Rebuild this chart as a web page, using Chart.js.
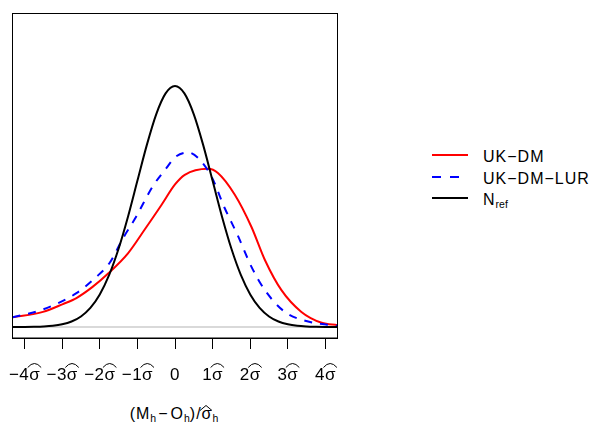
<!DOCTYPE html>
<html>
<head>
<meta charset="utf-8">
<script src="https://cdn.jsdelivr.net/npm/chart.js@4/dist/chart.umd.min.js"></script>
<style>
  html, body { margin: 0; padding: 0; background: #fff; }
  body { width: 598px; height: 424px; position: relative; overflow: hidden;
         font-family: "Liberation Sans", Arial, sans-serif; color: #000; }
  #wrap { position: absolute; left: 0; top: 0; width: 350px; height: 390px; }
  .txt { position: absolute; font-size: 16px; letter-spacing: 1px; white-space: nowrap; line-height: 1; }
  .txt sub { font-size: 10.5px; letter-spacing: 0; vertical-align: -3px; }
  .op { margin: 0 2px; }
  .hat { position: relative; display: inline-block; }
  .hat svg { position: absolute; left: -1.5px; top: -1.5px; width: 12px; height: 6px; overflow: visible; }
  #xtitle { left: 0; width: 348px; top: 406px; text-align: center; }
  .key { position: absolute; left: 432px; width: 36px; height: 4px; }
</style>
</head>
<body>
<div id="wrap"><canvas id="dens"></canvas></div>
<div class="txt" id="xtitle">(M<sub>h</sub><span class="op">&minus;</span>O<sub>h</sub>)/<span class="hat">&sigma;<svg><polyline points="0,5.5 6,0.5 12,5.5" fill="none" stroke="#000" stroke-width="1"/></svg></span><sub>h</sub></div>

<svg class="key" style="top:153px"><line x1="0" y1="2" x2="36" y2="2" stroke="#ff0000" stroke-width="2"/></svg>
<svg class="key" style="top:174.7px"><line x1="0" y1="2" x2="36" y2="2" stroke="#0000ff" stroke-width="2" stroke-dasharray="9 9"/></svg>
<svg class="key" style="top:195.7px"><line x1="0" y1="2" x2="36" y2="2" stroke="#000" stroke-width="2"/></svg>
<div class="txt" style="left:483px; top:149px">UK&minus;DM</div>
<div class="txt" style="left:483px; top:170.5px">UK&minus;DM&minus;LUR</div>
<div class="txt" style="left:483px; top:191.5px">N<sub>ref</sub></div>

<script>
// standardised residuals, in units of sigma-hat
const xTicks = [-4, -3, -2, -1, 0, 1, 2, 3, 4];

const ukdmX = [-4.32, -3.51, -2.98, -2.62, -2.2, -1.77, -1.25, -0.81, -0.36, 0, 0.26, 0.88, 1.14, 1.59, 2.03, 2.39, 2.83, 3.36, 3.9, 4.32];
const ukdmY = [0.016, 0.025, 0.038, 0.048, 0.066, 0.089, 0.122, 0.161, 0.202, 0.236, 0.252, 0.262, 0.255, 0.219, 0.166, 0.111, 0.061, 0.025, 0.007, 0.003];

const lurX = [-4.32, -3.51, -2.62, -2.09, -1.74, -1.38, -1.03, -0.59, -0.23, 0, 0.35, 0.61, 0.97, 1.32, 1.68, 2.03, 2.39, 2.92, 3.54, 4.16, 4.32];
const lurY = [0.016, 0.029, 0.056, 0.083, 0.106, 0.147, 0.183, 0.233, 0.263, 0.281, 0.289, 0.280, 0.249, 0.197, 0.150, 0.100, 0.061, 0.025, 0.009, 0.003, 0.002];

const refX = [-4.32, -4, -3.75, -3.5, -3.25, -3, -2.75, -2.5, -2.25, -2, -1.75, -1.5, -1.25, -1, -0.75, -0.5, -0.25, 0,
              0.25, 0.5, 0.75, 1, 1.25, 1.5, 1.75, 2, 2.25, 2.5, 2.75, 3, 3.25, 3.5, 3.75, 4, 4.32];
const refY = [0.0000, 0.0001, 0.0004, 0.0009, 0.0020, 0.0044, 0.0091, 0.0175, 0.0317, 0.0540, 0.0863, 0.1295, 0.1826, 0.2420, 0.3011, 0.3521, 0.3867, 0.3989,
              0.3867, 0.3521, 0.3011, 0.2420, 0.1826, 0.1295, 0.0863, 0.0540, 0.0317, 0.0175, 0.0091, 0.0044, 0.0020, 0.0009, 0.0004, 0.0001, 0.0000];

const pts = (xs, ys) => xs.map((x, i) => ({ x: x, y: ys[i] }));

// box round the plot region, grey zero line, and the sigma-hat tick labels
const frame = {
  id: 'frame',
  beforeDatasetsDraw(chart) {
    const { ctx, chartArea: a, scales: { y } } = chart;
    const y0 = y.getPixelForValue(0);
    ctx.save();
    ctx.strokeStyle = '#cccccc';
    ctx.lineWidth = 1.5;
    ctx.beginPath();
    ctx.moveTo(a.left, y0);
    ctx.lineTo(a.right, y0);
    ctx.stroke();
    ctx.restore();
  },
  afterDraw(chart) {
    const { ctx, chartArea: a, scales: { x } } = chart;
    ctx.save();
    ctx.strokeStyle = '#000';
    ctx.lineWidth = 1;
    ctx.strokeRect(a.left, a.top, a.right - a.left, a.bottom - a.top);

    ctx.font = '17px "Liberation Sans", Arial, sans-serif';
    ctx.fillStyle = '#000';
    ctx.textAlign = 'left';
    ctx.textBaseline = 'alphabetic';
    if ('letterSpacing' in ctx) ctx.letterSpacing = '0.4px';
    const base = a.bottom + 41.5;
    xTicks.forEach(v => {
      const cx = x.getPixelForValue(v);
      if (v === 0) {
        const w0 = ctx.measureText('0').width;
        ctx.fillText('0', cx - w0 / 2, base);
        return;
      }
      const num = (v < 0 ? '\u2212' : '') + Math.abs(v);
      const label = num + '\u03c3';
      const w = ctx.measureText(label).width;
      const left = cx - w / 2;
      ctx.fillText(label, left, base);
      const sL = left + ctx.measureText(num).width;
      const sR = left + w - 0.4;
      // wide hat over sigma
      ctx.beginPath();
      ctx.moveTo(sL - 1.5, base - 12);
      ctx.quadraticCurveTo((sL + sR) / 2, base - 20, sR + 1.5, base - 12);
      ctx.stroke();
    });
    ctx.restore();
  }
};

const line = (data, color, dash, order) => ({
  data: data,
  borderColor: color,
  borderWidth: 2,
  borderDash: dash,
  pointRadius: 0,
  fill: false,
  cubicInterpolationMode: 'monotone',
  order: order
});

new Chart(document.getElementById('dens'), {
  type: 'line',
  data: {
    datasets: [
      line(pts(refX, refY), '#000000', [], 0),
      line(pts(lurX, lurY), '#0000ff', [8, 8], 1),
      line(pts(ukdmX, ukdmY), '#ff0000', [], 2)
    ]
  },
  options: {
    responsive: true,
    maintainAspectRatio: false,
    animation: false,
    layout: { padding: { left: 12.5, right: 12.5, top: 13.5, bottom: 0 } },
    plugins: { legend: { display: false }, tooltip: { enabled: false } },
    scales: {
      x: {
        type: 'linear',
        min: -4.32,
        max: 4.32,
        afterBuildTicks: s => { s.ticks = xTicks.map(v => ({ value: v })); },
        afterFit: s => { s.height = 52; },
        grid: { drawOnChartArea: false, drawTicks: true, tickLength: 11, tickColor: '#000', tickWidth: 1 },
        border: { display: true, color: '#000' },
        ticks: { display: false }
      },
      y: { display: false, min: -0.0182, max: 0.519 }
    }
  },
  plugins: [frame]
});
</script>
</body>
</html>
